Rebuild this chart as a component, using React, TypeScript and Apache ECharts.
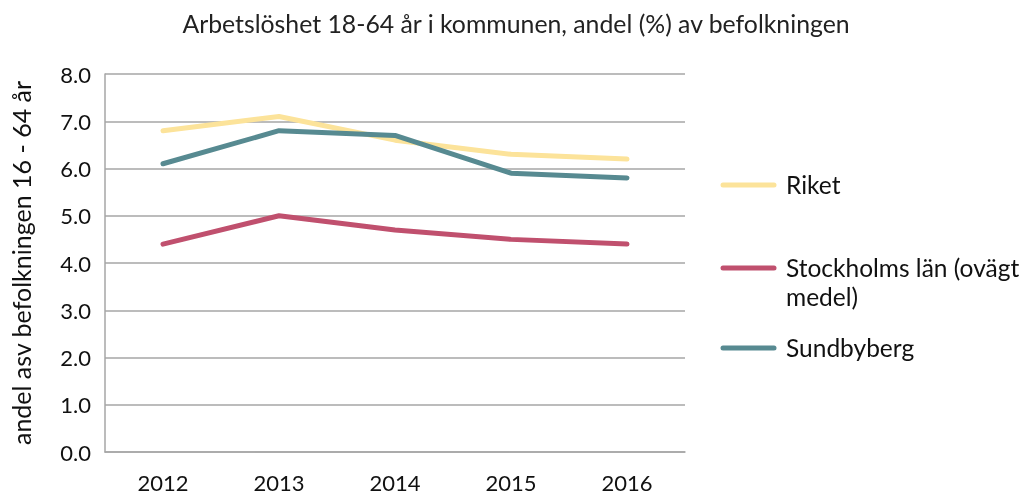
import React, { useEffect, useRef } from "react";
import * as echarts from "echarts";

const categories = ["2012", "2013", "2014", "2015", "2016"];
const riket = [6.8, 7.1, 6.6, 6.3, 6.2];
const stockholm = [4.4, 5.0, 4.7, 4.5, 4.4];
const sundbyberg = [6.1, 6.8, 6.7, 5.9, 5.8];
const seriesNames = ["Riket", "Stockholms län (ovägt medel)", "Sundbyberg"];
const legendLabels = ["Riket", "Stockholms län (ovägt\nmedel)", "Sundbyberg"];
const colors = ["#FCE39A", "#C0506E", "#578A91"];
const titleText = "Arbetslöshet 18-64 år i kommunen, andel (%) av befolkningen";
const yAxisName = "andel asv befolkningen 16 - 64 år";

const FONT = "Lato, 'Open Sans', sans-serif";

export default function App() {
  const ref = useRef<HTMLDivElement>(null);
  useEffect(() => {
    if (!ref.current) return;
    const chart = echarts.init(ref.current, null, { renderer: "svg" });
    const data = [riket, stockholm, sundbyberg];
    const legendY = [185, 268, 348];
    const legendGraphics: any[] = [];
    seriesNames.forEach((n, i) => {
      legendGraphics.push({
        type: "line",
        shape: { x1: 723, y1: legendY[i], x2: 774, y2: legendY[i] },
        style: { stroke: colors[i], lineWidth: 5, lineCap: "round" },
      });
      legendGraphics.push({
        type: "text",
        x: 786,
        y: legendY[i] - 15,
        style: {
          text: legendLabels[i],
          fill: "#111",
          font: `24.5px ${FONT}`,
          lineHeight: 29,
          textVerticalAlign: "top",
        },
      });
    });
    chart.setOption({
      animation: false,
      title: {
        text: titleText,
        left: 511,
        textAlign: "center",
        top: 6,
        textStyle: { fontFamily: FONT, fontSize: 24.8, fontWeight: "normal", color: "#222" },
      },
      grid: { left: 102, top: 74, right: 341, bottom: 43, containLabel: false },
      xAxis: {
        type: "category",
        data: categories,
        boundaryGap: true,
        axisLine: { show: true, lineStyle: { color: "#a6a6a6", width: 1.5 } },
        axisTick: { show: false },
        axisLabel: { margin: 19, fontFamily: FONT, fontSize: 22, color: "#111" },
      },
      yAxis: {
        type: "value",
        min: 0,
        max: 8,
        interval: 1,
        name: yAxisName,
        nameLocation: "middle",
        nameGap: 72,
        nameRotate: 90,
        nameTextStyle: { fontFamily: FONT, fontSize: 25, color: "#111" },
        axisLine: { show: true, lineStyle: { color: "#a6a6a6", width: 1.5 } },
        axisTick: { show: false },
        splitLine: { lineStyle: { color: "#a6a6a6", width: 1.5 } },
        axisLabel: {
          margin: 14,
          fontFamily: FONT,
          fontSize: 22,
          color: "#111",
          formatter: (v: number) => v.toFixed(1),
        },
      },
      series: seriesNames.map((n, i) => ({
        name: n,
        type: "line",
        data: data[i],
        showSymbol: false,
        symbol: "none",
        lineStyle: { color: colors[i], width: 5, cap: "round", join: "round" },
        itemStyle: { color: colors[i] },
      })),
      graphic: legendGraphics,
    });
    return () => chart.dispose();
  }, []);
  return (
    <div
      ref={ref}
      style={{ width: 1026, height: 495, position: "fixed", left: 0, top: 0 }}
    />
  );
}
